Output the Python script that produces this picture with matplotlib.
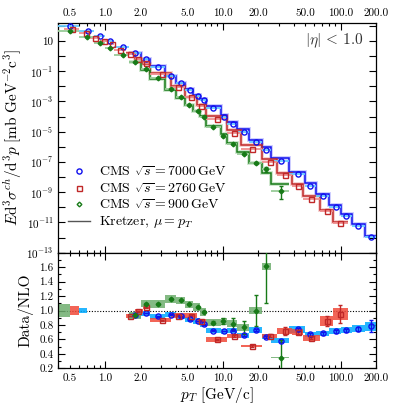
import numpy as np
import matplotlib
matplotlib.use('Agg')
import matplotlib.pyplot as plt
from matplotlib.ticker import LogLocator, FuncFormatter, MultipleLocator, FixedLocator
from matplotlib.patches import Rectangle

# ---- CMS sqrt(s) = 7000 GeV ----
edges_7000 = [0.4, 0.6, 0.8, 1.0, 1.2, 1.6, 2.0, 2.4, 3.2, 4.0, 4.8, 5.6, 6.4, 7.2, 9.6,
              10.8, 13.2, 16.8, 21.6, 25.6, 36.8, 49.6, 62.4, 80.0, 100.0, 124.0, 160.0, 200.0]
pt_7000 = [0.507, 0.709, 0.902, 1.096, 1.406, 1.81, 2.215, 2.80, 3.61, 4.45, 5.21, 6.15, 6.88,
           8.26, 10.2, 12.2, 15.1, 19.3, 23.2, 31.2, 43.5, 55.4, 70.9, 90.8, 112.0, 140.5, 182.0]
data_7000 = [98, 43.8, 21.4, 10.5, 4.2, 1.54, 0.616, 0.20, 0.0484, 0.0158, 5.5e-3, 2.4e-3,
             1.25e-3, 3.7e-4, 8.9e-5, 3.2e-5, 9.6e-6, 2.2e-6, 5.9e-7, 1.1e-7, 1.6e-8, 2.7e-9,
             5.6e-10, 1.05e-10, 2.8e-11, 6.1e-12, 1.04e-12]
# NLO and ratio start at the 1.6 GeV bin
nlo_7000 = [1.65, 0.638, 0.217, 0.0515, 0.0172, 6.25e-3, 2.81e-3, 1.54e-3, 5.1e-4, 1.24e-4,
            4.4e-5, 1.45e-5, 3.0e-6, 9.3e-7, 1.9e-7, 2.2e-8, 4.0e-9, 8.2e-10, 1.47e-10,
            3.85e-11, 8.2e-12, 1.33e-12]
ratio_7000 = [0.935, 0.965, 0.92, 0.94, 0.92, 0.88, 0.855, 0.81, 0.72, 0.715, 0.72, 0.66,
              0.73, 0.636, 0.58, 0.74, 0.668, 0.683, 0.714, 0.728, 0.746, 0.783]
stat_7000 = [0.005, 0.005, 0.005, 0.005, 0.005, 0.005, 0.005, 0.005, 0.005, 0.005, 0.005, 0.008,
             0.01, 0.01, 0.01, 0.02, 0.015, 0.02, 0.02, 0.02, 0.03, 0.08]
sys_7000 = [0.035, 0.035, 0.035, 0.035, 0.035, 0.035, 0.035, 0.035, 0.035, 0.035, 0.035, 0.035,
            0.035, 0.035, 0.035, 0.05, 0.04, 0.04, 0.04, 0.04, 0.05, 0.06]

# ---- CMS sqrt(s) = 2760 GeV ----
edges_2760 = [0.45, 0.6, 0.75, 0.9, 1.05, 1.2, 1.5, 1.8, 2.1, 2.4, 3.6, 4.8, 6.0, 7.2, 10.8,
              14.4, 21.6, 28.8, 38.4, 48.0, 67.2, 86.4, 115.2]
pt_2760 = [0.518, 0.686, 0.826, 0.984, 1.133, 1.35, 1.64, 1.89, 2.215, 3.02, 4.14, 5.41, 6.58,
           8.96, 12.4, 17.8, 25.0, 33.5, 43.5, 56.0, 76.7, 98.3]
data_2760 = [59.4, 32.3, 15.8, 10.0, 6.2, 2.54, 1.38, 0.66, 0.335, 0.064, 9.1e-3, 1.9e-3,
             5.0e-4, 6.9e-5, 8.3e-6, 7.2e-7, 1.0e-7, 1.38e-8, 2.6e-9, 3.4e-10, 5.7e-11, 9.6e-12]
nlo_2760 = [1.49, 0.667, 0.32, 0.074, 9.8e-3, 2.04e-3, 5.8e-4, 1.15e-4, 1.29e-5, 1.42e-6,
            1.54e-7, 1.93e-8, 3.7e-9, 5.5e-10, 6.65e-11, 1.01e-11]
ratio_2760 = [0.926, 0.99, 1.045, 0.866, 0.93, 0.93, 0.857, 0.60, 0.645, 0.508, 0.65, 0.715,
              0.70, 0.62, 0.857, 0.95]
stat_2760 = [0.005, 0.005, 0.005, 0.005, 0.005, 0.005, 0.008, 0.01, 0.01, 0.01, 0.02, 0.05,
             0.03, 0.02, 0.07, 0.12]
sys_2760 = [0.03, 0.03, 0.03, 0.03, 0.03, 0.03, 0.03, 0.03, 0.03, 0.02, 0.03, 0.04, 0.04,
            0.04, 0.065, 0.085]

# ---- CMS sqrt(s) = 900 GeV ----
edges_900 = [0.4, 0.6, 0.8, 1.0, 1.2, 1.6, 2.0, 2.4, 3.2, 4.0, 4.8, 5.6, 6.4, 7.2, 9.6,
             10.8, 13.2, 16.8, 21.6, 25.6, 36.8]
pt_900 = [0.507, 0.70, 0.902, 1.10, 1.406, 1.81, 2.21, 2.80, 3.61, 4.45, 5.2, 6.1, 6.85, 8.2,
          10.1, 12.2, 15.1, 19.2, 23.2, 31.0]
data_900 = [44.5, 17.0, 7.05, 3.29, 1.24, 0.396, 0.130, 0.033, 6.9e-3, 2.0e-3, 5.9e-4, 2.4e-4,
            1.0e-4, 2.1e-5, 5.6e-6, 1.5e-6, 3.4e-7, 8.5e-8, 3.2e-8, 1.2e-9]
data_900_lo = [0, 0, 0, 0, 0, 0, 0, 0, 0, 0, 0, 0, 0, 0, 0, 0, 0, 1.5e-8, 1.0e-8, 8.5e-10]
data_900_hi = [0, 0, 0, 0, 0, 0, 0, 0, 0, 0, 0, 0, 0, 0, 0, 0, 0, 1.8e-8, 1.6e-8, 1.4e-9]
nlo_900 = [0.424, 0.119, 0.0303, 5.95e-3, 1.75e-3, 5.43e-4, 2.29e-4, 1.02e-4, 2.53e-5, 6.57e-6,
           1.83e-6, 4.4e-7, 8.5e-8, 2.0e-8, 3.5e-9]
ratio_900 = [0.935, 1.096, 1.09, 1.16, 1.14, 1.087, 1.05, 0.98, 0.83, 0.853, 0.82, 0.77, 1.0,
             1.61, 0.346]
stat_900 = [0.01, 0.01, 0.01, 0.01, 0.01, 0.01, 0.015, 0.015, 0.02, 0.04, 0.07, 0.09, 0.21,
            0.51, 0.24]
sys_900 = [0.05, 0.05, 0.05, 0.05, 0.05, 0.05, 0.05, 0.05, 0.05, 0.05, 0.05, 0.05, 0.05, 0.05, 0.01]

# normalisation uncertainty boxes drawn at ratio 1
norm_boxes = [(0.4, 0.5, 0.09, '900'), (0.5, 0.6, 0.06, '2760'), (0.6, 0.7, 0.035, '7000')]

styles = {
    '7000': dict(c='#1010ee', light='#66ccff', box='#00aaff', halo='#9999ff', m='o', ms=3.7, mfc='none'),
    '2760': dict(c='#c02828', light='#f09090', box='#f04a3a', halo='#eea0a0', m='s', ms=3.6, mfc='none'),
    '900': dict(c='#177a17', light='#99cc99', box='#6fae6f', halo='#99cc99', m='D', ms=2.4, mfc='#177a17'),
}
datasets = [
    ('7000', edges_7000, pt_7000, data_7000, nlo_7000, ratio_7000, stat_7000, sys_7000),
    ('2760', edges_2760, pt_2760, data_2760, nlo_2760, ratio_2760, stat_2760, sys_2760),
    ('900', edges_900, pt_900, data_900, nlo_900, ratio_900, stat_900, sys_900),
]

plt.rcParams['font.family'] = ['cmr10', 'DejaVu Serif']
plt.rcParams['mathtext.fontset'] = 'cm'
plt.rcParams['axes.formatter.use_mathtext'] = True
plt.rcParams['axes.unicode_minus'] = False

fig = plt.figure(figsize=(4.07, 4.07), dpi=100)
ax = fig.add_axes([0.1433, 0.379, 0.7805, 0.5652])
axr = fig.add_axes([0.1433, 0.0951, 0.7805, 0.2839])

for key, edges, pt, data, nlo, ratio, stat, sys in datasets:
    st = styles[key]
    edges = np.array(edges)
    pt = np.array(pt)
    n_off = len(pt) - len(nlo)
    lo = edges[:-1]
    hi = edges[1:]
    # NLO steps with a light band
    ax.stairs(nlo, edges[n_off:], baseline=None, color=st['halo'], lw=2.8, alpha=0.5, zorder=2)
    ax.stairs(nlo, edges[n_off:], baseline=None, color=st['c'], lw=1.1, zorder=3)
    # data
    ax.errorbar(pt, data, xerr=[pt - lo, hi - pt], fmt='none', ecolor=st['light'], elinewidth=1.3, zorder=4)
    if key == '900':
        ax.errorbar(pt, data, yerr=[data_900_lo, data_900_hi], fmt='none', ecolor=st['c'],
                    elinewidth=1.0, capsize=1.5, zorder=5)
    ax.plot(pt, data, ls='none', marker=st['m'], ms=st['ms'], mfc=st['mfc'], mec=st['c'],
            mew=1.0, zorder=6)

    # ratio panel
    rlo = lo[n_off:]
    rhi = hi[n_off:]
    for x0, x1, r, s in zip(rlo, rhi, ratio, sys):
        axr.add_patch(Rectangle((x0, r - s), x1 - x0, 2 * s, facecolor=st['box'],
                                edgecolor='none', alpha=0.85, zorder=2))
    rpt = pt[n_off:]
    axr.errorbar(rpt, ratio, yerr=stat, fmt='none', ecolor=st['c'], elinewidth=1.0,
                 capsize=1.5, zorder=5)
    axr.plot(rpt, ratio, ls='none', marker=st['m'], ms=st['ms'], mfc=st['mfc'], mec=st['c'],
             mew=1.0, zorder=6)

for x0, x1, s, key in norm_boxes:
    axr.add_patch(Rectangle((x0, 1 - s), x1 - x0, 2 * s, facecolor=styles[key]['box'],
                            edgecolor='none', alpha=0.85, zorder=2))

axr.axhline(1.0, color='black', ls=(0, (1, 1.5)), lw=0.8, zorder=1)

# legend
hs = []
for key in ['7000', '2760', '900']:
    st = styles[key]
    h, = ax.plot([], [], ls='none', marker=st['m'], ms=st['ms'], mfc='none', mec=st['c'], mew=1.0,
                 label=r'CMS $\sqrt{s} = %s\,\mathrm{GeV}$' % key)
    hs.append(h)
h, = ax.plot([], [], color='#555555', lw=1.0, label=r'Kretzer, $\mu = p_T$')
hs.append(h)
ax.legend(handles=hs, loc='lower left', bbox_to_anchor=(0.0, 0.055), frameon=False, fontsize=10,
          handlelength=1.6, handletextpad=0.6, labelspacing=0.18, borderaxespad=0.3)

ax.text(0.96, 0.92, r'$|\eta|\,<\,1.0$', transform=ax.transAxes, ha='right', va='center',
        fontsize=11, color='#333333')

# axes formatting
label_pts = [0.5, 1, 2, 5, 10, 20, 50, 100, 200]


def xfmt(v, pos):
    for p in label_pts:
        if abs(v - p) < 1e-6 * p:
            return '%.1f' % v
    return ''


def yfmt(v, pos):
    e = int(round(np.log10(v)))
    if e % 2 == 0:
        return ''
    if e == 1:
        return '10'
    return r'$10^{%d}$' % e


for a in (ax, axr):
    a.set_xscale('log')
    a.set_xlim(0.4, 200)
    a.xaxis.set_major_locator(LogLocator(base=10, subs=(1.0,)))
    a.xaxis.set_minor_locator(LogLocator(base=10, subs=np.arange(2, 10), numticks=20))
    a.xaxis.set_major_formatter(FuncFormatter(xfmt))
    a.xaxis.set_minor_formatter(FuncFormatter(xfmt))
    a.tick_params(which='both', direction='in', top=True, right=True, labelsize=8, width=0.8)
    a.tick_params(which='major', length=5)
    a.tick_params(which='minor', length=2.5)
    for sp in a.spines.values():
        sp.set_linewidth(0.9)

ax.set_yscale('log')
ax.set_ylim(1e-13, 1.6e2)
ax.yaxis.set_major_locator(FixedLocator([10.0 ** e for e in range(-13, 3)]))
ax.yaxis.set_minor_locator(FixedLocator([]))
ax.yaxis.set_major_formatter(FuncFormatter(yfmt))
ax.tick_params(which='both', axis='x', labeltop=True, labelbottom=False)
ax.set_ylabel(r'$E\mathrm{d}^3\sigma^{ch}/\mathrm{d}^3p\ [\mathrm{mb\ GeV}^{-2}\mathrm{c}^3]$', fontsize=11, labelpad=2)

axr.set_ylim(0.2, 1.8)
axr.yaxis.set_major_locator(MultipleLocator(0.2))
axr.yaxis.set_minor_locator(MultipleLocator(0.1))
axr.yaxis.set_major_formatter(FuncFormatter(lambda v, p: '%.1f' % v if v < 1.7 else ''))
axr.set_ylabel('Data/NLO', fontsize=11, labelpad=4)
axr.set_xlabel(r'$p_T$ [GeV/c]', fontsize=11, labelpad=2)

fig.savefig('out.png', dpi=100)
